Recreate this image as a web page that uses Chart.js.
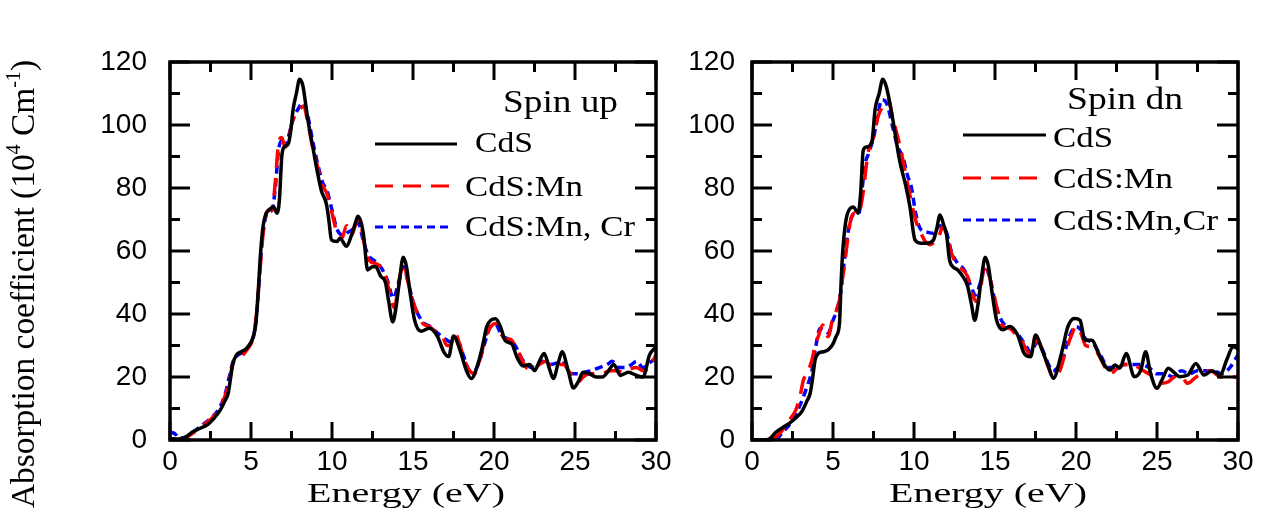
<!DOCTYPE html>
<html>
<head>
<meta charset="utf-8">
<script src="https://cdn.jsdelivr.net/npm/chart.js@4.4.0/dist/chart.umd.min.js"></script>
<style>
  body { margin: 0; background: #fff; width: 1266px; height: 525px; overflow: hidden; position: relative; }
  canvas { position: absolute; top: 0; }
  #upChart { left: 0; }
  #dnChart { left: 660px; }
</style>
</head>
<body>
<canvas id="upChart" width="700" height="525"></canvas>
<canvas id="dnChart" width="606" height="525"></canvas>
<script>
// axis ranges / ticks
const xMajor = [0, 5, 10, 15, 20, 25, 30];
const yMajor = [0, 20, 40, 60, 80, 100, 120];
const namesUp = ['CdS', 'CdS:Mn', 'CdS:Mn, Cr'];
const namesDn = ['CdS', 'CdS:Mn', 'CdS:Mn,Cr'];

// spin up: [energy eV, absorption]
const upCdS = [[0,0.5],[0.5,0.3],[1.0,1],[1.4,2.6],[1.9,3.8],[2.3,4.8],[2.7,6.8],[3.1,9.5],[3.4,12.5],[3.6,15],[3.75,20],[3.87,24],[4.1,27],[4.4,28],[4.7,29],[5.0,31],[5.15,33],[5.3,37],[5.45,47.5],[5.6,60],[5.75,68],[5.9,71.5],[6.1,73],[6.4,74],[6.6,72],[6.75,76],[6.9,90],[7.05,93],[7.3,94],[7.45,98],[7.6,105],[7.8,110],[8.0,114.5],[8.2,112.5],[8.5,102],[8.85,92],[9.1,85],[9.35,79],[9.65,75],[9.8,70],[9.97,63.5],[10.3,63],[10.5,64],[10.9,61.5],[11.2,65],[11.45,69],[11.6,71],[11.8,69],[11.95,65],[12.2,54],[12.5,55],[12.7,55],[13.0,52],[13.3,50],[13.5,44],[13.75,37.5],[13.95,42],[14.15,50],[14.4,58],[14.6,55],[14.8,47.5],[15.1,38],[15.5,34.5],[16.0,35.5],[16.5,33],[16.9,28],[17.2,26.5],[17.5,33],[17.9,28.5],[18.3,22],[18.6,19.5],[19.0,24],[19.3,30],[19.55,36],[19.8,38],[20.1,38.5],[20.4,36],[20.7,31.5],[21.1,30.5],[21.4,26.5],[21.8,23.5],[22.2,24],[22.5,22],[22.8,25],[23.1,27.5],[23.4,23],[23.66,19.5],[23.97,24.5],[24.2,28],[24.6,21.5],[24.9,16.5],[25.2,18.5],[25.5,21.5],[25.9,21],[26.3,20],[26.7,20],[27.0,21.5],[27.4,24],[27.8,20.5],[28.3,21.5],[28.8,20.5],[29.2,20],[29.6,27],[30,29.5]];
const upMn = [[0.6,0],[1.0,0.8],[1.5,2.5],[2.0,4.5],[2.5,6.5],[3.0,9.5],[3.4,14],[3.7,20],[3.9,24.5],[4.2,26],[4.5,27],[4.8,29],[5.1,32],[5.3,38],[5.5,50],[5.7,63],[5.9,71],[6.1,73],[6.3,73],[6.5,82],[6.7,94],[6.9,96],[7.1,93],[7.3,95],[7.5,100],[7.8,104],[8.0,105],[8.25,106],[8.5,101],[8.8,93],[9.1,87],[9.4,81],[9.7,78],[10.0,72],[10.3,66],[10.6,64],[10.9,68],[11.2,65],[11.5,69],[11.7,70],[12.0,62],[12.3,57],[12.7,56],[13.0,55],[13.3,52],[13.6,46],[13.85,42],[14.1,49],[14.4,56],[14.7,50],[15.0,44],[15.3,40],[15.6,37],[16.0,36],[16.5,34],[16.8,33],[17.1,30],[17.3,30],[17.6,34],[17.9,30],[18.2,25],[18.5,22],[18.8,21],[19.1,25],[19.5,33],[19.8,36],[20.1,37],[20.4,34],[20.7,32],[21.0,32],[21.3,30],[21.6,27],[22.0,23],[22.4,22.5],[22.8,24],[23.2,25],[23.6,23],[24.0,24],[24.3,24],[24.6,22],[24.9,20],[25.2,18.5],[25.5,20],[25.9,21],[26.3,21],[26.7,21],[27.1,22],[27.5,22],[28.0,21.5],[28.4,22.5],[28.8,23],[29.2,22],[29.6,23],[30,27]];
const upMnCr = [[0,2.5],[0.3,2],[0.6,0.6],[1.0,1],[1.5,2.8],[2.0,4.8],[2.5,6.8],[3.0,9.8],[3.4,14.5],[3.7,21],[3.9,25],[4.2,27],[4.6,28],[4.9,30],[5.2,34],[5.4,43],[5.6,58],[5.8,68],[6.0,72],[6.3,73],[6.5,80],[6.7,92],[6.9,95],[7.1,93],[7.3,96],[7.6,102],[7.9,105],[8.2,107],[8.5,103],[8.8,95],[9.1,88],[9.4,82],[9.7,79],[10.0,73],[10.3,67],[10.7,65],[11.0,66],[11.3,67],[11.6,69],[11.9,64],[12.2,59],[12.6,57],[13.0,55],[13.4,51],[13.8,45],[14.1,50],[14.4,55],[14.7,50],[15.0,44],[15.3,40],[15.7,37],[16.1,36],[16.5,34],[17.0,32],[17.4,31],[17.8,31],[18.1,27],[18.5,22],[18.8,22],[19.1,25],[19.5,32],[19.8,36],[20.1,36.5],[20.5,33],[20.9,32],[21.3,30],[21.7,26],[22.1,23.5],[22.5,23],[23.0,25],[23.5,24],[24.0,24.5],[24.4,24],[24.8,21],[25.2,21],[25.6,21.5],[26.0,22],[26.5,23],[27.0,24],[27.3,25],[27.7,23],[28.1,23],[28.5,24],[28.8,25],[29.2,23],[29.6,24.5],[30,26]];

// spin dn
const dnCdS = [[0,0],[1.0,0.2],[1.5,2.6],[1.9,4],[2.3,5.3],[2.7,7],[3.07,9],[3.4,12.5],[3.6,15],[3.75,20],[3.9,25.5],[4.1,27.5],[4.4,28],[4.7,28.6],[5.0,30.5],[5.2,33],[5.4,37],[5.5,50],[5.6,60],[5.75,68],[5.9,72],[6.25,74],[6.55,72],[6.7,78],[6.87,92],[7.08,93],[7.4,94.7],[7.6,105],[7.85,110],[8.07,114.5],[8.3,112],[8.7,101.5],[9.1,89],[9.5,80.5],[9.75,74],[10.06,63.5],[10.4,62.5],[10.8,62.5],[11.2,63.5],[11.4,67],[11.6,71.4],[11.85,68],[12.0,65.5],[12.2,57],[12.4,55],[12.7,54],[13.0,52],[13.3,49],[13.55,43],[13.75,38],[13.95,43],[14.15,51],[14.4,58],[14.6,55],[14.8,47.5],[15.1,38],[15.5,35],[15.9,36],[16.4,33.3],[16.8,27.5],[17.2,26.4],[17.5,33.3],[17.9,28.6],[18.3,23.3],[18.6,19.6],[19.1,27.5],[19.5,36],[19.9,38.6],[20.25,38],[20.55,31.7],[21.0,31.7],[21.3,28.6],[21.7,24.3],[22.1,22.2],[22.4,23.8],[22.7,22.8],[23.1,27.5],[23.6,20.1],[24.0,22.2],[24.3,28],[24.6,21.2],[25.0,16.4],[25.3,19],[25.7,22.8],[26.0,21.7],[26.4,20.1],[26.9,20.6],[27.4,24.3],[27.9,20.6],[28.4,22],[28.9,20.6],[29.3,25.4],[29.7,29.6],[30,29]];
const dnMn = [[1.2,0],[1.6,1.5],[2.0,4],[2.3,6.3],[2.7,9.5],[2.96,13.7],[3.17,19],[3.4,21.2],[3.7,25.4],[3.9,30],[4.1,33],[4.37,36.5],[4.55,34],[4.7,32.8],[5.0,39],[5.2,41],[5.4,44.4],[5.55,50],[5.7,55],[5.9,63.5],[6.1,70],[6.3,72],[6.6,72],[6.75,75],[6.9,80],[7.05,87],[7.2,92],[7.5,96],[7.8,103],[8.1,106],[8.4,108],[8.7,102],[9.1,94],[9.5,84],[9.9,74],[10.15,69],[10.4,66],[10.7,63],[11.0,62],[11.3,63],[11.5,64],[11.8,68],[12.0,65],[12.2,61],[12.5,57],[12.8,55],[13.3,52],[13.7,45],[13.9,44],[14.1,48],[14.4,56],[14.7,51],[14.9,47],[15.2,40],[15.5,36],[15.9,35.5],[16.2,34],[16.6,32],[16.9,29],[17.2,27],[17.6,32],[17.9,29],[18.3,23],[18.6,20],[19.0,22],[19.3,27],[19.7,33],[20.0,36],[20.3,34],[20.6,30],[21.0,29.5],[21.4,27],[21.8,23],[22.1,21],[22.5,22.5],[23.0,24],[23.5,24],[24.0,22.5],[24.5,21],[24.9,20],[25.3,18],[25.7,18.5],[26.1,20],[26.5,20],[26.9,18],[27.3,19.5],[27.7,21],[28.1,22],[28.5,21.5],[28.9,20],[29.3,20],[29.7,20],[30,20]];
const dnMnCr = [[1.5,0],[1.9,2.5],[2.4,5.5],[2.96,11],[3.4,17],[3.7,22],[3.95,30],[4.2,35.4],[4.45,35],[4.7,34],[5.0,38],[5.2,40.7],[5.45,46],[5.7,57],[5.9,65],[6.1,70],[6.35,72],[6.6,72],[6.8,80],[7.0,88],[7.2,91],[7.5,96],[7.8,104],[8.0,108],[8.3,107],[8.7,99],[9.0,93],[9.3,90],[9.6,84],[9.85,80],[10.1,72],[10.4,67],[10.8,66],[11.2,65.6],[11.6,68],[12.0,66],[12.3,60],[12.7,56],[13.1,54],[13.5,49],[13.8,46],[14.1,50],[14.4,55],[14.7,51],[15.0,44],[15.3,39],[15.7,36],[16.1,35],[16.5,33],[16.9,30],[17.2,28],[17.6,31],[17.9,29],[18.3,24],[18.6,22],[19.0,24],[19.3,28],[19.6,33],[20.0,36],[20.3,35],[20.6,32],[21.0,31],[21.5,27],[22.0,23],[22.5,23],[23.0,24],[23.5,24],[24.0,24],[24.5,23],[25.0,21],[25.5,21],[26.0,20],[26.5,22],[27.0,21],[27.5,22],[28.0,22],[28.5,22],[29.0,21],[29.5,23],[30,27]];

const SERIF = '"Liberation Serif", "Times New Roman", serif';
const SANS = '"Liberation Sans", Arial, sans-serif';

// draw text squeezed/stretched to a given width (the original figure is stretched sideways)
function fitText(ctx, text, x, y, w, size) {
    ctx.save();
    ctx.font = size + 'px ' + SERIF;
    const m = ctx.measureText(text).width;
    ctx.translate(x, y);
    ctx.scale(w / m, 1);
    ctx.textBaseline = 'alphabetic';
    ctx.textAlign = 'left';
    ctx.fillStyle = '#000';
    ctx.fillText(text, 0, 0);
    ctx.restore();
}

// box with inward ticks on all four sides
const framePlugin = {
    id: 'frame',
    afterDatasetsDraw(chart) {
        const { ctx, chartArea: a, scales: { x, y } } = chart;
        ctx.save();
        ctx.strokeStyle = '#000';
        ctx.lineWidth = 3;
        ctx.beginPath();
        xMajor.forEach((v, i) => {
            const px = x.getPixelForValue(v);
            ctx.moveTo(px, a.bottom); ctx.lineTo(px, a.bottom - 18);
            ctx.moveTo(px, a.top); ctx.lineTo(px, a.top + 18);
            if (i > 0) {
                const pm = x.getPixelForValue((v + xMajor[i - 1]) / 2);
                ctx.moveTo(pm, a.bottom); ctx.lineTo(pm, a.bottom - 9);
                ctx.moveTo(pm, a.top); ctx.lineTo(pm, a.top + 10);
            }
        });
        yMajor.forEach((v, i) => {
            const py = y.getPixelForValue(v);
            ctx.moveTo(a.left, py); ctx.lineTo(a.left + 20, py);
            ctx.moveTo(a.right, py); ctx.lineTo(a.right - 21, py);
            if (i > 0) {
                const pm = y.getPixelForValue((v + yMajor[i - 1]) / 2);
                ctx.moveTo(a.left, pm); ctx.lineTo(a.left + 10, pm);
                ctx.moveTo(a.right, pm); ctx.lineTo(a.right - 10, pm);
            }
        });
        ctx.stroke();
        ctx.lineWidth = 3.5;
        ctx.strokeRect(a.left, a.top, a.width, a.height);
        ctx.restore();
    }
};

// legend + spin label inside the plot, plus x title
const panelPlugin = {
    id: 'panel',
    afterDraw(chart) {
        const o = chart.options.plugins.panel;
        const ctx = chart.ctx;
        const a = chart.chartArea;
        fitText(ctx, o.title, o.titleX, o.titleY, o.titleW, 32);
        o.rows.forEach((r, i) => {
            const ds = chart.data.datasets[i];
            ctx.save();
            ctx.strokeStyle = ds.borderColor;
            ctx.lineWidth = 3;
            ctx.setLineDash(ds.borderDash || []);
            ctx.beginPath();
            ctx.moveTo(r[1], r[0]);
            ctx.lineTo(r[2], r[0]);
            ctx.stroke();
            ctx.restore();
            fitText(ctx, ds.label, r[3], r[4], r[5], 29);
        });
        const cx = (a.left + a.right) / 2 - 7;
        fitText(ctx, 'Energy (eV)', cx - 99, 502, 198, 27);
    }
};

const yTitlePlugin = {
    id: 'yTitle',
    afterDraw(chart) {
        const ctx = chart.ctx;
        const parts = [['Absorption coefficient (10', 0], ['4', 1], [' Cm', 0], ['-1', 1], [')', 0]];
        const size = 30;
        ctx.save();
        let total = 0;
        const widths = parts.map(([t, sup]) => {
            ctx.font = (sup ? size * 0.6 : size) + 'px ' + SERIF;
            const w = ctx.measureText(t).width;
            total += w;
            return w;
        });
        ctx.translate(34, 284);
        ctx.rotate(-Math.PI / 2);
        ctx.scale(448 / total, 1.15);
        ctx.fillStyle = '#000';
        ctx.textBaseline = 'alphabetic';
        let pos = -total / 2;
        parts.forEach(([t, sup], i) => {
            ctx.font = (sup ? size * 0.6 : size) + 'px ' + SERIF;
            ctx.fillText(t, pos, sup ? -size * 0.42 : 0);
            pos += widths[i];
        });
        ctx.restore();
    }
};

const toXY = pts => pts.map(p => ({ x: p[0], y: p[1] }));

function makeChart(id, names, black, red, blue, yAxisWidth, rightPad, labelGap, panel, extraPlugins) {
    const common = { pointRadius: 0, borderWidth: 3.5, fill: false, cubicInterpolationMode: 'monotone' };
    return new Chart(document.getElementById(id), {
        type: 'line',
        data: {
            datasets: [
                { ...common, label: names[0], data: toXY(black), borderColor: '#000000' },
                { ...common, label: names[1], data: toXY(red), borderColor: '#ff0000', borderDash: [18, 10] },
                { ...common, label: names[2], data: toXY(blue), borderColor: '#0000ff', borderDash: [8, 5] }
            ]
        },
        options: {
            responsive: false,
            animation: false,
            events: [],
            layout: { padding: { top: 62, right: rightPad, left: 0, bottom: 0 } },
            plugins: { legend: { display: false }, tooltip: { enabled: false }, panel: panel },
            scales: {
                x: {
                    type: 'linear', min: 0, max: 30,
                    grid: { display: false, drawTicks: false },
                    border: { display: false },
                    ticks: { stepSize: 5, autoSkip: false, maxRotation: 0, padding: 5, color: '#000', font: { family: SANS, size: 28 } },
                    afterFit(s) { s.height = 85; s.paddingLeft = 0; s.paddingRight = 0; }
                },
                y: {
                    min: 0, max: 120,
                    grid: { display: false, drawTicks: false },
                    border: { display: false },
                    ticks: { stepSize: 20, autoSkip: false, padding: labelGap, color: '#000', font: { family: SANS, size: 28 } },
                    afterFit(s) { s.width = yAxisWidth; s.paddingTop = 0; s.paddingBottom = 0; }
                }
            }
        },
        plugins: [framePlugin, panelPlugin].concat(extraPlugins)
    });
}

makeChart('upChart', namesUp, upCdS, upMn, upMnCr, 170, 44, 23, {
    title: 'Spin up', titleX: 503, titleY: 112, titleW: 115,
    // [lineY, lineX1, lineX2, textX, textBaseline, textWidth]
    rows: [[144, 375, 457, 475, 152, 58], [186, 375, 458, 465, 196, 118], [227, 375, 453, 465, 236, 170]]
}, [yTitlePlugin]);

makeChart('dnChart', namesDn, dnCdS, dnMn, dnMnCr, 92, 28, 17, {
    title: 'Spin dn', titleX: 407, titleY: 109, titleW: 116,
    rows: [[135, 303, 386, 393, 147, 60], [178, 303, 386, 393, 188, 120], [220, 303, 380, 393, 230, 165]]
}, []);
</script>
</body>
</html>
